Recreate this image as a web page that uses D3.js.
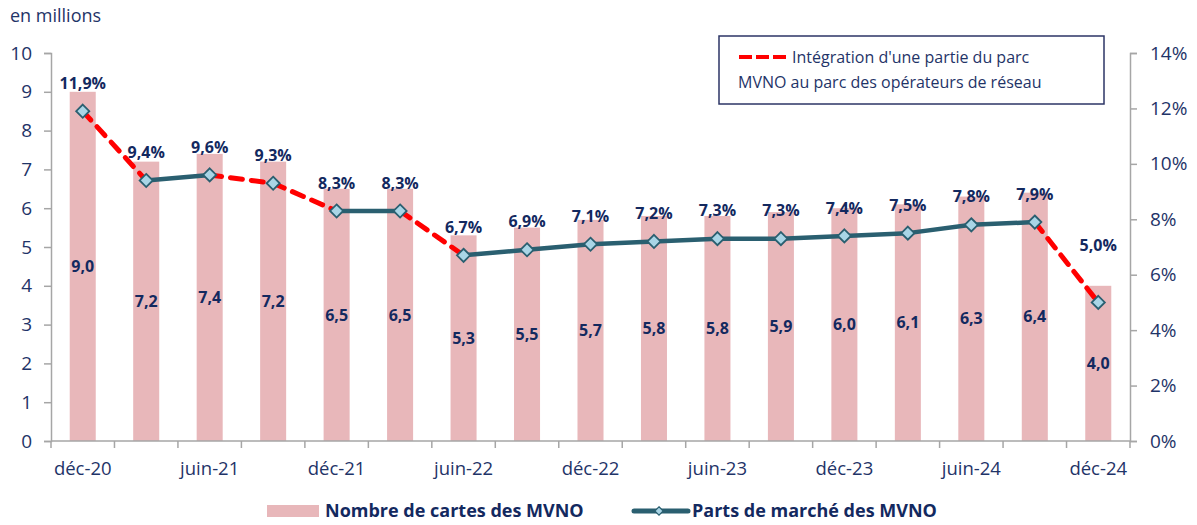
<!doctype html>
<html>
  <head>
    <meta charset="utf-8">
    <title>MVNO</title>
    <script type="text/javascript" src="https://cdn.jsdelivr.net/npm/d3@7"></script>
    <style>
      body { margin: 0; background: #fff; }
      text { font-family: "Open Sans", sans-serif; }
    </style>
  </head>
  <body>
    <script>
      const periods = ['déc-20', 'mars-21', 'juin-21', 'sept-21', 'déc-21', 'mars-22', 'juin-22', 'sept-22',
        'déc-22', 'mars-23', 'juin-23', 'sept-23', 'déc-23', 'mars-24', 'juin-24', 'sept-24', 'déc-24'];
      const cartes = [9.0, 7.2, 7.4, 7.2, 6.5, 6.5, 5.3, 5.5, 5.7, 5.8, 5.8, 5.9, 6.0, 6.1, 6.3, 6.4, 4.0];
      const parts = [11.9, 9.4, 9.6, 9.3, 8.3, 8.3, 6.7, 6.9, 7.1, 7.2, 7.3, 7.3, 7.4, 7.5, 7.8, 7.9, 5.0];
      // segment i -> i+1 en pointillés rouges (intégration d'une partie du parc)
      const integration = [0, 2, 3, 5, 15];
      const leftTicks = [0, 1, 2, 3, 4, 5, 6, 7, 8, 9, 10];
      const rightTicks = [0, 2, 4, 6, 8, 10, 12, 14];

      const width = 1197, height = 525;
      const mLeft = 51, mRight = 1130, mTop = 53, mBottom = 441;
      const navy = '#1f3468';
      const labelColor = '#13295f';
      const barColor = '#e8b7ba';
      const lineColor = '#2a5f70';
      const axisColor = '#a6a6a6';
      const fmt = v => d3.format('.1f')(v).replace('.', ',');

      const svg = d3.select('body').append('svg')
          .attr('width', width)
          .attr('height', height);

      const x = d3.scaleBand()
          .domain(periods)
          .range([mLeft, mRight])
          .paddingInner(0.59)
          .paddingOuter(0.295);
      const step = x.step();
      const cx = d => x(d) + x.bandwidth() / 2;

      const y = d3.scaleLinear().domain([0, 10]).range([mBottom, mTop]);
      const y2 = d3.scaleLinear().domain([0, 14]).range([mBottom, mTop]);

      // barres
      svg.append('g')
        .selectAll('rect')
        .data(cartes)
        .enter().append('rect')
          .attr('x', (d, i) => x(periods[i]))
          .attr('y', d => y(d))
          .attr('width', x.bandwidth())
          .attr('height', d => mBottom - y(d))
          .attr('fill', barColor);

      // axes
      const gl = svg.append('g').attr('transform', `translate(${mLeft},0)`)
          .call(d3.axisLeft(y).tickValues(leftTicks).tickSize(7).tickPadding(12));
      const gr = svg.append('g').attr('transform', `translate(${mRight},0)`)
          .call(d3.axisRight(y2).tickValues(rightTicks).tickSize(7).tickPadding(13).tickFormat(d => d + '%'));
      [gl, gr].forEach(g => {
        g.select('.domain').attr('stroke', axisColor).attr('stroke-width', 1.5);
        g.selectAll('.tick line').attr('stroke', axisColor).attr('stroke-width', 1.5);
        g.selectAll('.tick text').attr('fill', navy).attr('font-size', 19).attr('font-family', '"Open Sans", sans-serif');
      });

      // axe des abscisses
      const gx = svg.append('g');
      gx.append('line')
          .attr('x1', mLeft).attr('x2', mRight)
          .attr('y1', mBottom).attr('y2', mBottom)
          .attr('stroke', axisColor).attr('stroke-width', 1.5);
      gx.selectAll('line.tk')
        .data(d3.range(periods.length + 1))
        .enter().append('line')
          .attr('class', 'tk')
          .attr('x1', i => mLeft + i * step).attr('x2', i => mLeft + i * step)
          .attr('y1', mBottom).attr('y2', mBottom + 7)
          .attr('stroke', axisColor).attr('stroke-width', 1.5);
      gx.selectAll('text')
        .data(periods.filter((p, i) => i % 2 === 0))
        .enter().append('text')
          .attr('x', d => cx(d))
          .attr('y', 475)
          .attr('text-anchor', 'middle')
          .attr('fill', navy)
          .attr('font-size', 18.5)
          .text(d => d);

      // libellés des barres
      svg.append('g')
        .selectAll('text')
        .data(cartes)
        .enter().append('text')
          .attr('x', (d, i) => cx(periods[i]))
          .attr('y', d => (y(d) + mBottom) / 2)
          .attr('dy', '0.35em')
          .attr('text-anchor', 'middle')
          .attr('font-size', 16)
          .attr('font-weight', 'bold')
          .attr('fill', labelColor)
          .text(d => fmt(d));

      // courbe des parts de marché
      const pts = parts.map((d, i) => [cx(periods[i]), y2(d)]);
      const gLine = svg.append('g');
      gLine.selectAll('line')
        .data(d3.range(parts.length - 1))
        .enter().append('line')
          .attr('x1', i => pts[i][0]).attr('y1', i => pts[i][1])
          .attr('x2', i => pts[i + 1][0]).attr('y2', i => pts[i + 1][1])
          .attr('stroke', i => integration.includes(i) ? '#ff0000' : lineColor)
          .attr('stroke-width', i => integration.includes(i) ? 5 : 4.5)
          .attr('stroke-dasharray', i => integration.includes(i) ? '12,9' : null)
          .attr('stroke-linecap', 'round');

      const diamond = d3.symbol().type(d3.symbolDiamond2).size(110);
      gLine.selectAll('path')
        .data(pts)
        .enter().append('path')
          .attr('d', diamond)
          .attr('transform', d => `translate(${d[0]},${d[1]})`)
          .attr('fill', '#a9d5e6')
          .attr('stroke', lineColor)
          .attr('stroke-width', 1.8);

      svg.append('g')
        .selectAll('text')
        .data(parts)
        .enter().append('text')
          .attr('x', (d, i) => cx(periods[i]))
          .attr('y', (d, i) => y2(d) - (i === parts.length - 1 ? 57 : 28))
          .attr('dy', '0.35em')
          .attr('text-anchor', 'middle')
          .attr('font-size', 16)
          .attr('font-weight', 'bold')
          .attr('fill', labelColor)
          .text(d => fmt(d) + '%');

      // unité
      svg.append('text')
          .attr('x', 10).attr('y', 22)
          .attr('fill', navy)
          .attr('font-size', 18)
          .text('en millions');

      // encadré de légende
      const box = svg.append('g');
      box.append('rect')
          .attr('x', 719).attr('y', 36)
          .attr('width', 385).attr('height', 68)
          .attr('fill', '#fff')
          .attr('stroke', '#2c3566')
          .attr('stroke-width', 1.5);
      box.append('line')
          .attr('x1', 739).attr('x2', 786)
          .attr('y1', 57).attr('y2', 57)
          .attr('stroke', '#ff0000')
          .attr('stroke-width', 4)
          .attr('stroke-dasharray', '13,4');
      box.append('text')
          .attr('x', 792).attr('y', 63)
          .attr('fill', navy).attr('font-size', 16)
          .text("Intégration d'une partie du parc");
      box.append('text')
          .attr('x', 738).attr('y', 88)
          .attr('fill', navy).attr('font-size', 16)
          .text('MVNO au parc des opérateurs de réseau');

      // légende du bas
      const lg = svg.append('g');
      lg.append('rect')
          .attr('x', 267).attr('y', 505)
          .attr('width', 52).attr('height', 12)
          .attr('fill', barColor);
      lg.append('text')
          .attr('x', 325).attr('y', 517)
          .attr('fill', labelColor).attr('font-size', 18).attr('font-weight', 'bold')
          .text('Nombre de cartes des MVNO');
      lg.append('line')
          .attr('x1', 634).attr('x2', 688)
          .attr('y1', 511).attr('y2', 511)
          .attr('stroke', lineColor).attr('stroke-width', 5)
          .attr('stroke-linecap', 'round');
      lg.append('path')
          .attr('d', d3.symbol().type(d3.symbolDiamond2).size(45))
          .attr('transform', 'translate(659,511)')
          .attr('fill', '#a9d5e6')
          .attr('stroke', lineColor)
          .attr('stroke-width', 1.2);
      lg.append('text')
          .attr('x', 692).attr('y', 517)
          .attr('fill', labelColor).attr('font-size', 18).attr('font-weight', 'bold')
          .text('Parts de marché des MVNO');
    </script>
  </body>
</html>
